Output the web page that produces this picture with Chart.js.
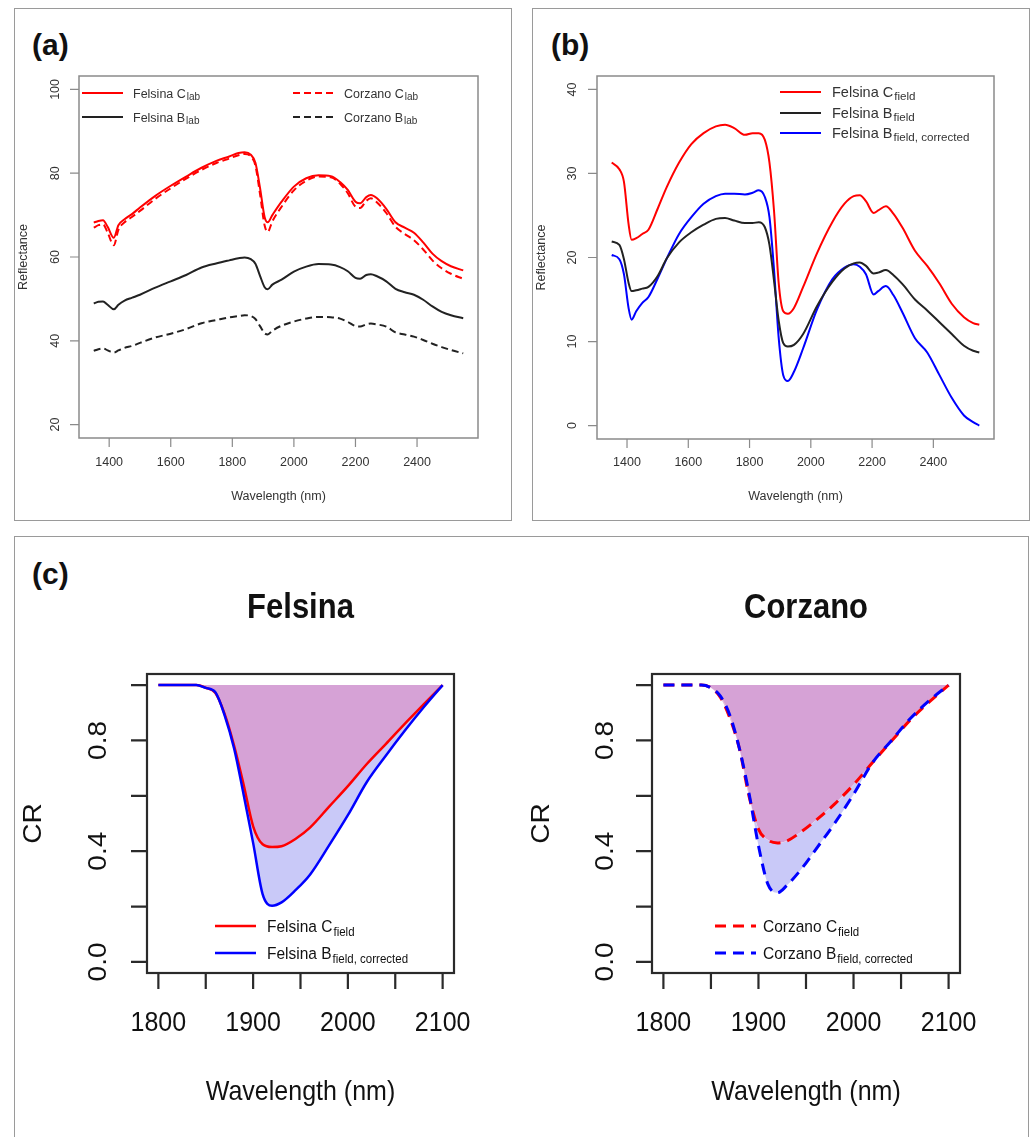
<!DOCTYPE html>
<html>
<head>
<meta charset="utf-8">
<script src="https://cdn.jsdelivr.net/npm/chart.js@4.4.1/dist/chart.umd.min.js"></script>
<style>
  body { margin: 0; background: #fff; font-family: "Liberation Sans", Arial, sans-serif; }
  .panel { position: absolute; border: 1.5px solid #9a9a9a; box-sizing: border-box; }
  .tag { position: absolute; font-weight: bold; font-size: 30px; line-height: 30px; color: #111; }
  canvas { position: absolute; }
</style>
</head>
<body>
<div class="panel" style="left:14px;top:8px;width:498px;height:513px"></div>
<div class="panel" style="left:532px;top:8px;width:498px;height:513px"></div>
<div class="panel" style="left:14px;top:536px;width:1015px;height:620px"></div>
<div class="tag" style="left:32px;top:30px">(a)</div>
<div class="tag" style="left:551px;top:30px">(b)</div>
<div class="tag" style="left:32px;top:559px">(c)</div>

<canvas id="chA" width="495" height="510" style="left:15px;top:9px"></canvas>
<canvas id="chB" width="495" height="510" style="left:533px;top:9px"></canvas>
<canvas id="chF" width="495" height="600" style="left:15px;top:537px"></canvas>
<canvas id="chC" width="512" height="600" style="left:515px;top:537px"></canvas>

<script>
// ---- (a) lab spectra ----
const wlLab = [1350, 1365, 1380, 1395, 1415, 1430, 1450, 1475, 1500, 1550, 1600, 1650, 1700, 1750, 1790,
  1820, 1840, 1860, 1875, 1890, 1905, 1915, 1930, 1960, 2000, 2040, 2080, 2120, 2150, 2175, 2200, 2215,
  2235, 2250, 2270, 2300, 2330, 2360, 2390, 2420, 2450, 2480, 2510, 2550];
const felsinaClab = [68.2, 68.6, 68.8, 67.2, 64.6, 67.6, 69.0, 70.3, 71.8, 74.6, 77.0, 79.2, 81.3, 83.0, 84.0,
  84.8, 85.0, 84.4, 82.5, 76.5, 69.5, 68.3, 70.0, 73.2, 76.8, 78.8, 79.5, 79.3, 77.9, 76.0, 73.2, 72.8,
  74.3, 74.8, 74.0, 71.5, 68.3, 67.0, 65.8, 63.5, 60.8, 59.0, 57.8, 56.8];
const corzanoClab = [67.0, 67.6, 67.8, 65.8, 62.8, 66.5, 68.3, 69.6, 71.0, 73.9, 76.4, 78.7, 80.8, 82.5, 83.5,
  84.3, 84.6, 84.0, 81.8, 75.0, 67.5, 66.0, 68.5, 72.0, 75.9, 78.2, 79.2, 79.0, 77.5, 75.2, 72.0, 71.7,
  73.4, 74.0, 73.0, 70.5, 67.2, 65.5, 64.0, 61.8, 59.2, 57.3, 56.0, 54.8];
const felsinaBlab = [48.9, 49.3, 49.4, 48.6, 47.5, 48.6, 49.6, 50.3, 51.0, 52.7, 54.2, 55.7, 57.5, 58.5, 59.2,
  59.7, 59.9, 59.5, 58.4, 55.5, 52.8, 52.3, 53.4, 54.6, 56.5, 57.7, 58.3, 58.2, 57.6, 56.6, 55.0, 54.8,
  55.7, 55.9, 55.4, 54.2, 52.4, 51.6, 51.0, 49.8, 48.2, 46.9, 46.1, 45.4];
const corzanoBlab = [37.6, 38.0, 38.2, 37.7, 37.2, 37.7, 38.3, 38.8, 39.5, 40.8, 41.7, 42.8, 44.2, 45.0, 45.6,
  45.9, 46.1, 45.9, 45.2, 43.5, 41.8, 41.5, 42.4, 43.6, 44.6, 45.3, 45.7, 45.6, 45.3, 44.5, 43.5, 43.4,
  43.9, 44.1, 43.9, 43.4, 42.0, 41.5, 41.0, 40.2, 39.3, 38.5, 37.8, 37.0];

// ---- (b) field spectra, Felsina ----
const wlField = [1350, 1375, 1390, 1405, 1415, 1430, 1450, 1470, 1500, 1530, 1570, 1610, 1650, 1690, 1720,
  1750, 1785, 1810, 1830, 1850, 1865, 1880, 1895, 1910, 1925, 1945, 1975, 2020, 2070, 2110, 2140, 2160,
  2180, 2205, 2220, 2245, 2270, 2300, 2340, 2380, 2420, 2460, 2500, 2530, 2550];
const felsinaCfield = [31.3, 30.5, 29.0, 24.0, 22.1, 22.3, 22.8, 23.3, 25.8, 28.4, 31.3, 33.5, 34.8, 35.6, 35.8,
  35.4, 34.6, 34.8, 34.8, 34.0, 31.3, 25.5, 17.0, 13.6, 13.3, 14.0, 16.5, 20.5, 24.2, 26.4, 27.3, 27.4,
  26.7, 25.3, 25.6, 26.1, 25.2, 23.5, 20.8, 19.0, 16.9, 14.5, 12.9, 12.2, 12.0];
const felsinaBfield = [21.9, 21.5, 19.8, 17.0, 16.0, 16.1, 16.3, 16.5, 17.8, 19.9, 21.8, 23.0, 23.9, 24.6, 24.7,
  24.4, 24.1, 24.1, 24.2, 23.6, 21.5, 17.2, 12.5, 9.8, 9.4, 9.6, 10.9, 14.2, 17.1, 18.7, 19.3, 19.4,
  19.0, 18.1, 18.2, 18.5, 17.9, 16.8, 15.0, 13.7, 12.3, 10.9, 9.5, 8.9, 8.7];
const felsinaBcorr = [20.3, 19.8, 18.0, 14.0, 12.6, 13.6, 14.6, 15.3, 17.5, 19.9, 22.8, 24.8, 26.4, 27.3, 27.6,
  27.6, 27.5, 27.7, 28.0, 27.2, 24.8, 18.5, 10.5, 6.0, 5.3, 6.4, 9.2, 13.8, 17.4, 18.8, 19.2, 18.9,
  18.0, 15.6, 16.0, 16.6, 15.5, 13.4, 10.4, 8.7, 6.0, 3.3, 1.2, 0.4, 0.0];

// ---- (c) continuum removed, 1900 nm band ----
const wlCR = [1800, 1820, 1840, 1850, 1860, 1870, 1880, 1890, 1900, 1910, 1920, 1930, 1945, 1960, 1980,
  2000, 2020, 2040, 2060, 2080, 2100];
const felsinaCR_C = [1.0, 1.0, 1.0, 0.99, 0.972, 0.895, 0.78, 0.64, 0.49, 0.425, 0.415, 0.418, 0.445, 0.485, 0.56,
  0.635, 0.715, 0.787, 0.86, 0.93, 1.0];
const felsinaCR_B = [1.0, 1.0, 1.0, 0.99, 0.975, 0.89, 0.77, 0.604, 0.43, 0.245, 0.203, 0.215, 0.26, 0.315, 0.42,
  0.53, 0.65, 0.745, 0.835, 0.92, 1.0];
const corzanoCR_C = [1.0, 1.0, 1.0, 0.99, 0.955, 0.88, 0.77, 0.6, 0.48, 0.44, 0.43, 0.437, 0.47, 0.51, 0.57,
  0.64, 0.72, 0.798, 0.875, 0.94, 1.0];
const corzanoCR_B = [1.0, 1.0, 1.0, 0.99, 0.96, 0.89, 0.77, 0.61, 0.42, 0.28, 0.25, 0.277, 0.335, 0.405, 0.5,
  0.605, 0.72, 0.8, 0.88, 0.945, 1.0];

// ticks
const xTicksAB = [1400, 1600, 1800, 2000, 2200, 2400];
const yTicksA = [20, 40, 60, 80, 100];
const yTicksB = [0, 10, 20, 30, 40];
const xTicksCR = [1800, 1850, 1900, 1950, 2000, 2050, 2100];
const xLabelsCR = [1800, 1900, 2000, 2100];
const yTicksCR = [0, 0.2, 0.4, 0.6, 0.8, 1.0];
const yLabelsCR = [0, 0.4, 0.8];

const FONT = '"Liberation Sans", Arial, Helvetica, sans-serif';
const RED = '#ff0000', BLACK = '#222222', BLUE = '#0000ff';
const PLUM = 'rgb(214,162,214)', LAVENDER = 'rgb(201,201,248)', PINK = 'rgb(246,205,210)';

function pts(xs, ys) {
  return xs.map((x, i) => ({ x: x, y: ys[i] }));
}

function setFont(ctx, px, bold) {
  ctx.font = (bold ? 'bold ' : '') + px + 'px ' + FONT;
}

function label(ctx, s, x, y, px, o) {
  o = o || {};
  ctx.save();
  ctx.translate(x, y);
  ctx.scale(1, o.sy || 1);
  if (o.rot) ctx.rotate(-Math.PI / 2);
  setFont(ctx, px, o.bold);
  ctx.textAlign = 'center';
  ctx.textBaseline = 'middle';
  ctx.fillText(s, 0, 0);
  ctx.restore();
}

// text with a subscript, like "Felsina C" + "lab"
function subLabel(ctx, main, sub, x, y, px, subRatio, sy) {
  ctx.save();
  ctx.translate(x, y);
  ctx.scale(1, sy || 1);
  setFont(ctx, px);
  ctx.textAlign = 'left';
  ctx.textBaseline = 'alphabetic';
  ctx.fillText(main, 0, px * 0.36);
  const w = ctx.measureText(main).width;
  setFont(ctx, Math.round(px * subRatio * 10) / 10);
  ctx.fillText(sub, w + 1, px * 0.36 + px * 0.22);
  ctx.restore();
}

// R style frame: box, outside ticks, rotated y labels, legend without box
function rFrame(st) {
  return {
    id: 'rFrame',
    afterDraw(chart) {
      const ctx = chart.ctx, a = chart.chartArea;
      const xs = chart.scales.x, ys = chart.scales.y;
      ctx.save();
      ctx.strokeStyle = st.boxColor;
      ctx.lineWidth = st.boxWidth;
      ctx.strokeRect(a.left, a.top, a.right - a.left, a.bottom - a.top);

      ctx.strokeStyle = st.tickColor;
      ctx.lineWidth = st.tickWidth;
      ctx.beginPath();
      st.xTicks.forEach(v => {
        const p = xs.getPixelForValue(v);
        ctx.moveTo(p, a.bottom);
        ctx.lineTo(p, a.bottom + st.tickLen);
      });
      st.yTicks.forEach(v => {
        const p = ys.getPixelForValue(v);
        ctx.moveTo(a.left, p);
        ctx.lineTo(a.left - st.tickLen, p);
      });
      ctx.stroke();

      ctx.fillStyle = st.textColor;
      st.xLabels.forEach(v => label(ctx, String(v), xs.getPixelForValue(v), a.bottom + st.xLabelDy, st.tickPx, { sy: st.sy }));
      st.yLabels.forEach(v => label(ctx, v.toFixed(st.yDec), a.left - st.yLabelDx, ys.getPixelForValue(v), st.tickPx, { rot: true, sy: st.sy }));

      const cx = (a.left + a.right) / 2, cy = (a.top + a.bottom) / 2;
      label(ctx, st.xTitle, cx, a.bottom + st.xTitleDy, st.titlePx, { sy: st.sy });
      label(ctx, st.yTitle, a.left - st.yTitleDx, cy, st.titlePx, { rot: true, sy: st.sy });
      if (st.main) label(ctx, st.main, cx, a.top + st.mainDy, st.mainPx, { bold: true, sy: st.sy });

      st.legend.forEach(it => {
        const x0 = a.left + it.dx, y0 = a.top + it.dy;
        ctx.save();
        ctx.strokeStyle = it.color;
        ctx.lineWidth = it.width;
        ctx.setLineDash(it.dash || []);
        ctx.beginPath();
        ctx.moveTo(x0, y0);
        ctx.lineTo(x0 + st.legLine, y0);
        ctx.stroke();
        ctx.restore();
        ctx.fillStyle = st.textColor;
        subLabel(ctx, it.main, it.sub, x0 + st.legText, y0, st.legPx, st.subRatio, st.sy);
      });
      ctx.restore();
    }
  };
}

function makeChart(id, datasets, xr, yr, pad, st) {
  return new Chart(document.getElementById(id), {
    type: 'line',
    data: { datasets: datasets },
    options: {
      responsive: false,
      animation: false,
      devicePixelRatio: 1,
      layout: { padding: pad },
      plugins: {
        legend: { display: false },
        tooltip: { enabled: false },
        filler: { drawTime: 'beforeDatasetsDraw' }
      },
      elements: { point: { radius: 0 }, line: { cubicInterpolationMode: 'monotone' } },
      scales: {
        x: { type: 'linear', min: xr[0], max: xr[1], display: false },
        y: { type: 'linear', min: yr[0], max: yr[1], display: false }
      }
    },
    plugins: [rFrame(st)]
  });
}

const smallStyle = {
  boxColor: '#8a8a8a', boxWidth: 1.5, tickColor: '#8a8a8a', tickWidth: 1.2, tickLen: 9,
  textColor: '#333', tickPx: 12.5, titlePx: 12.5, sy: 1, yDec: 0, subRatio: 0.8,
  xTicks: xTicksAB, xLabels: xTicksAB,
  xLabelDy: 25, yLabelDx: 23, xTitleDy: 59, yTitleDx: 55, xTitle: 'Wavelength (nm)', yTitle: 'Reflectance'
};

// (a)
makeChart('chA', [
  { data: pts(wlLab, felsinaClab), borderColor: RED, borderWidth: 2, fill: false },
  { data: pts(wlLab, corzanoClab), borderColor: RED, borderWidth: 2, borderDash: [7, 4], fill: false },
  { data: pts(wlLab, felsinaBlab), borderColor: BLACK, borderWidth: 2, fill: false },
  { data: pts(wlLab, corzanoBlab), borderColor: BLACK, borderWidth: 2, borderDash: [7, 4], fill: false }
], [1302, 2598], [16.8, 103.2], { left: 64, top: 67, right: 32, bottom: 81 },
  Object.assign({}, smallStyle, {
    yTicks: yTicksA, yLabels: yTicksA, legPx: 12.5, legLine: 41, legText: 51,
    legend: [
      { main: 'Felsina C', sub: 'lab', color: RED, width: 2, dx: 3, dy: 17 },
      { main: 'Felsina B', sub: 'lab', color: BLACK, width: 2, dx: 3, dy: 41 },
      { main: 'Corzano C', sub: 'lab', color: RED, width: 2, dash: [7, 4], dx: 214, dy: 17 },
      { main: 'Corzano B', sub: 'lab', color: BLACK, width: 2, dash: [7, 4], dx: 214, dy: 41 }
    ]
  }));

// (b)
makeChart('chB', [
  { data: pts(wlField, felsinaCfield), borderColor: RED, borderWidth: 2, fill: false },
  { data: pts(wlField, felsinaBfield), borderColor: BLACK, borderWidth: 2, fill: false },
  { data: pts(wlField, felsinaBcorr), borderColor: BLUE, borderWidth: 2, fill: false }
], [1302, 2598], [-1.6, 41.6], { left: 64, top: 67, right: 34, bottom: 80 },
  Object.assign({}, smallStyle, {
    yTicks: yTicksB, yLabels: yTicksB, xLabelDy: 24, yLabelDx: 24, xTitleDy: 58,
    legPx: 14.5, legLine: 41, legText: 52,
    legend: [
      { main: 'Felsina C', sub: 'field', color: RED, width: 2, dx: 183, dy: 16 },
      { main: 'Felsina B', sub: 'field', color: BLACK, width: 2, dx: 183, dy: 37 },
      { main: 'Felsina B', sub: 'field, corrected', color: BLUE, width: 2, dx: 183, dy: 57 }
    ]
  }));

const crStyle = {
  boxColor: '#2a2a2a', boxWidth: 2.2, tickColor: '#2a2a2a', tickWidth: 2.2, tickLen: 16,
  textColor: '#111', tickPx: 25, titlePx: 25, mainPx: 31, sy: 1.12, yDec: 1, subRatio: 0.74,
  xTicks: xTicksCR, xLabels: xLabelsCR, yTicks: yTicksCR, yLabels: yLabelsCR,
  xLabelDy: 50, xTitleDy: 119, mainDy: -66, xTitle: 'Wavelength (nm)', yTitle: 'CR',
  legPx: 15.5, legLine: 41
};

// (c) Felsina
makeChart('chF', [
  { data: pts(wlCR, felsinaCR_B), borderColor: BLUE, borderWidth: 2.5,
    fill: { target: 1, above: PINK, below: LAVENDER } },
  { data: pts(wlCR, felsinaCR_C), borderColor: RED, borderWidth: 2.5,
    fill: { value: 1 }, backgroundColor: PLUM }
], [1788, 2112], [-0.04, 1.04], { left: 132, top: 137, right: 56, bottom: 164 },
  Object.assign({}, crStyle, {
    main: 'Felsina', yLabelDx: 48, yTitleDx: 113, legText: 52,
    legend: [
      { main: 'Felsina C', sub: 'field', color: RED, width: 2.5, dx: 68, dy: 252 },
      { main: 'Felsina B', sub: 'field, corrected', color: BLUE, width: 2.5, dx: 68, dy: 279 }
    ]
  }));

// (c) Corzano
makeChart('chC', [
  { data: pts(wlCR, corzanoCR_B), borderColor: BLUE, borderWidth: 3, borderDash: [11, 7],
    fill: { target: 1, above: PINK, below: LAVENDER } },
  { data: pts(wlCR, corzanoCR_C), borderColor: RED, borderWidth: 3, borderDash: [11, 7],
    fill: { value: 1 }, backgroundColor: PLUM }
], [1788, 2112], [-0.04, 1.04], { left: 137, top: 137, right: 67, bottom: 164 },
  Object.assign({}, crStyle, {
    main: 'Corzano', yLabelDx: 46, yTitleDx: 110, legText: 48,
    legend: [
      { main: 'Corzano C', sub: 'field', color: RED, width: 3, dash: [11, 7], dx: 63, dy: 252 },
      { main: 'Corzano B', sub: 'field, corrected', color: BLUE, width: 3, dash: [11, 7], dx: 63, dy: 279 }
    ]
  }));
</script>
</body>
</html>
